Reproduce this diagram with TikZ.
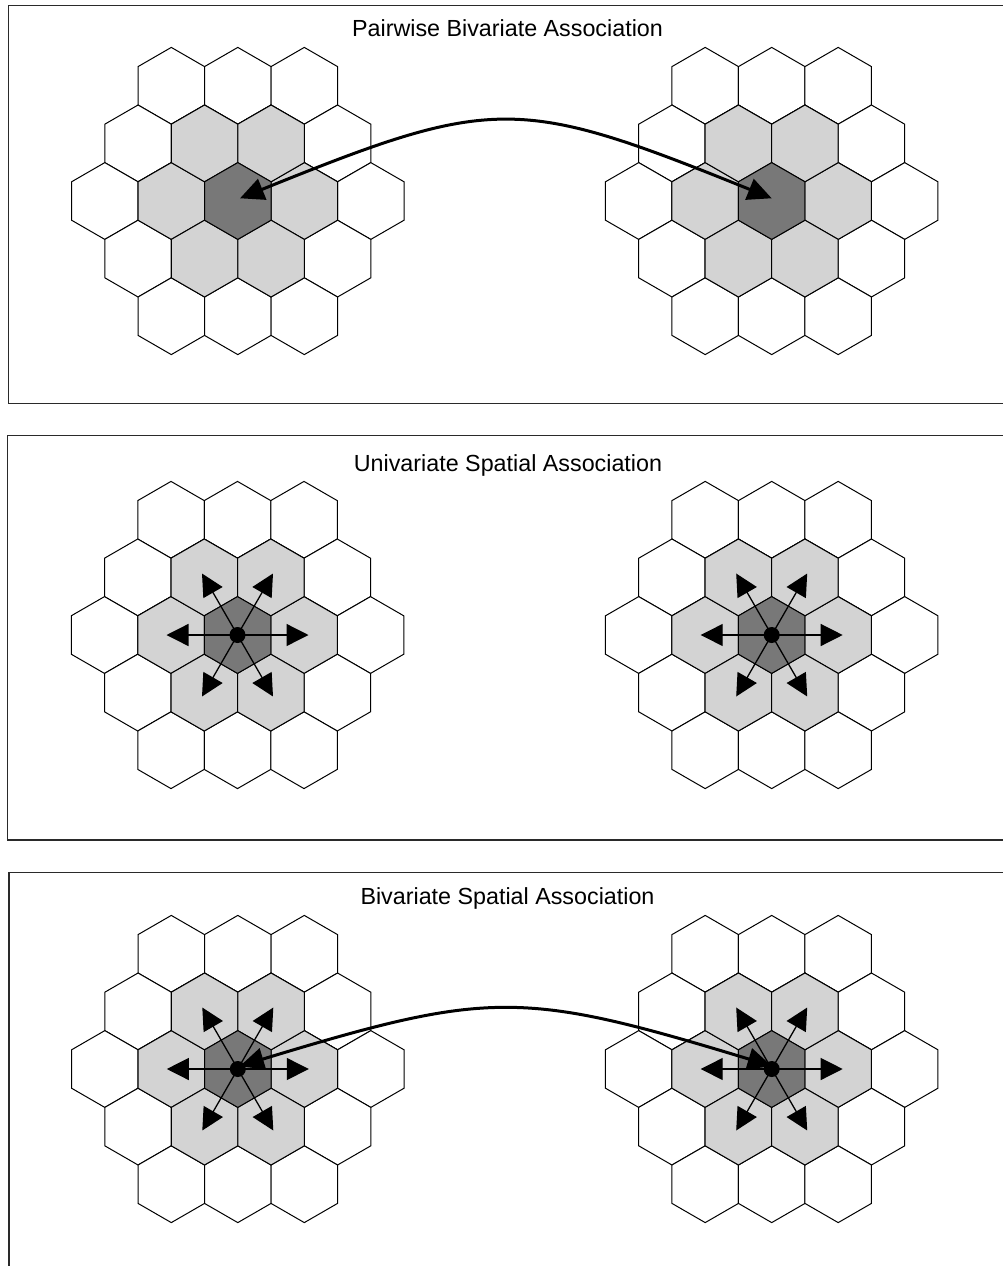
\documentclass[tikz,border=0pt]{standalone}
\usepackage{fontspec}
\setmainfont{Liberation Sans}
\usetikzlibrary{arrows.meta,calc}
\definecolor{hexlight}{HTML}{D3D3D3}
\definecolor{hexdark}{HTML}{787878}
\definecolor{framecol}{HTML}{2A2A2A}
\tikzset{
  hexline/.style={draw=black,line width=1pt,line join=miter},
  frame/.style={draw=framecol,line width=1.4pt},
  title/.style={font=\fontsize{23.3}{28}\selectfont,anchor=base,inner sep=0pt},
  stararrow/.style={line width=1.3pt,-{Triangle[length=22pt,width=22pt]}},
  curvearrow/.style={line width=3pt,{Triangle[length=24pt,width=22pt]}-{Triangle[length=24pt,width=22pt]}},
}
\newcommand{\hexcell}[3]{%
  \filldraw[hexline,fill=#3] ({(#1)},{(#2)-38.4}) -- ({(#1)+33.25},{(#2)-19.2}) -- ({(#1)+33.25},{(#2)+19.2}) -- ({(#1)},{(#2)+38.4}) -- ({(#1)-33.25},{(#2)+19.2}) -- ({(#1)-33.25},{(#2)-19.2}) -- cycle;}
\newcommand{\hexcluster}[2]{%
  \foreach \r/\n in {-2/3,-1/4,0/5,1/4,2/3}{%
    \foreach \k in {1,...,\n}{%
      \hexcell{#1+(\k-(\n+1)/2)*66.5}{#2+(\r)*57.6}{white}%
    }%
  }%
  \foreach \dx/\dy in {-66.5/0,66.5/0,-33.25/-57.6,33.25/-57.6,-33.25/57.6,33.25/57.6}{%
    \hexcell{#1+(\dx)}{#2+(\dy)}{hexlight}%
  }%
  \hexcell{#1}{#2}{hexdark}%
}
\newcommand{\starburst}[1]{%
  \foreach \a in {0,60,...,300}{%
    \coordinate (#1-e\a) at ($(#1)+(\a:71)$);
    \draw[stararrow] (#1) -- (#1-e\a);
  }%
  \fill[black] (#1) circle[radius=8pt];
}
\begin{document}
\begin{tikzpicture}[x=1pt,y=-1pt]
\useasboundingbox (0,0) rectangle (1003,1266);
\clip (0,0) rectangle (1003,1266);
% panel frames
\draw[frame] (8.7,5.3) rectangle (1030,403.3);
\draw[frame] (7.5,435.7) rectangle (1030,840);
\draw[frame] (9,1290) |- (1030,872.7);
% titles
\node[title] (t1) at (507.5,36) {Pairwise Bivariate Association};
\node[title] (t2) at (508,471) {Univariate Spatial Association};
\node[title] (t3) at (507.5,904) {Bivariate Spatial Association};
% cluster centres
\coordinate (L1) at (237.8,201);
\coordinate (R1) at (771.7,201);
\coordinate (L2) at (237.5,635);
\coordinate (R2) at (771.7,635);
\coordinate (L3) at (237.8,1069);
\coordinate (R3) at (771.7,1069);
% hex clusters
\hexcluster{237.8}{201}
\hexcluster{771.7}{201}
\hexcluster{237.5}{635}
\hexcluster{771.7}{635}
\hexcluster{237.8}{1069}
\hexcluster{771.7}{1069}
% panel 1: pairwise arrow
\coordinate (L1t) at ($(L1)+(2.2,-2.7)$);
\coordinate (R1t) at ($(R1)+(0,-2.7)$);
\draw[curvearrow] (L1t) .. controls +(254,-102.7) and +(-254,-102.7) .. (R1t);
% panel 2: univariate stars
\starburst{L2}
\starburst{R2}
% panel 3: stars and bivariate arrow
\starburst{L3}
\starburst{R3}
\coordinate (L3t) at ($(L3)+(2.2,-3)$);
\coordinate (R3t) at ($(R3)+(0,-3)$);
\draw[curvearrow] (L3t) .. controls +(250,-76) and +(-250,-76) .. (R3t);
\end{tikzpicture}
\end{document}
